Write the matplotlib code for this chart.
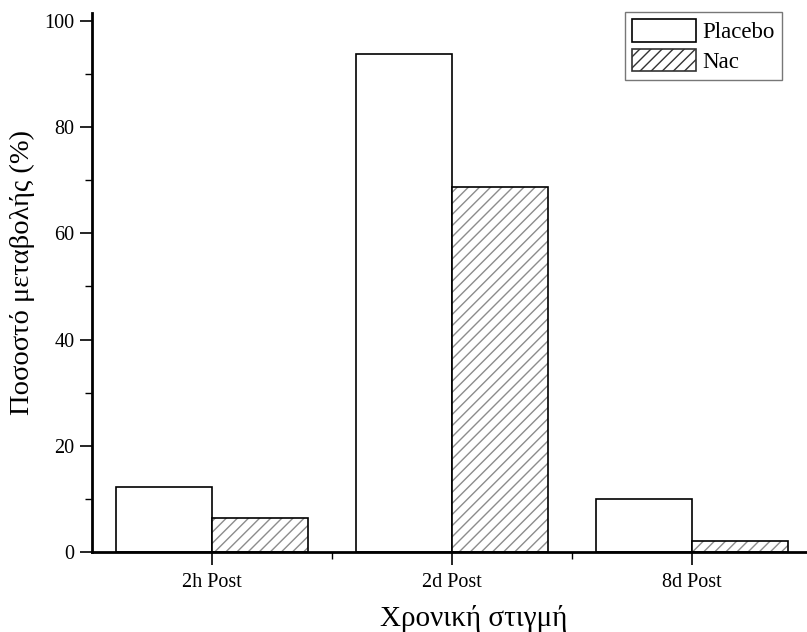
import matplotlib
matplotlib.use("Agg")
import matplotlib.pyplot as plt
import numpy as np
from matplotlib.ticker import MultipleLocator, FixedLocator
from matplotlib.patches import Patch

categories = ["2h Post", "2d Post", "8d Post"]
placebo = [12.3, 93.8, 10.0]
nac = [6.4, 68.7, 2.1]

plt.rcParams['font.family'] = ['Liberation Serif', 'DejaVu Serif']
plt.rcParams['hatch.linewidth'] = 1.0

fig = plt.figure(figsize=(8.07, 6.32), dpi=100)
ax = fig.add_axes([92/807, 1-552/632, (807-92)/807, (552-13)/632])

x = np.arange(len(categories))
w = 0.4
ax.bar(x - w/2, placebo, w, facecolor='white', edgecolor='black', linewidth=1.2)
# hatch layer (grey) then black outline
ax.bar(x + w/2, nac, w, facecolor='white', edgecolor='#8c8c8c', linewidth=0, hatch='///')
ax.bar(x + w/2, nac, w, facecolor='none', edgecolor='black', linewidth=1.2)

ax.set_xlim(-0.5, 2.48)
ax.set_ylim(0, 101.5)
ax.set_xticks(x)
ax.set_xticklabels(categories, fontsize=14.5)
ax.xaxis.set_minor_locator(FixedLocator([0.5, 1.5]))
ax.yaxis.set_major_locator(MultipleLocator(20))
ax.yaxis.set_minor_locator(MultipleLocator(10))
ax.tick_params(axis='y', which='major', labelsize=14.5, length=9, width=1.2, direction='out')
ax.tick_params(axis='y', which='minor', length=5, width=1.0, direction='out')
ax.tick_params(axis='x', which='major', length=9, width=1.2, direction='out', pad=6)
ax.tick_params(axis='x', which='minor', length=5, width=1.0, direction='out')

for s in ['top', 'right']:
    ax.spines[s].set_visible(False)
for s in ['left', 'bottom']:
    ax.spines[s].set_linewidth(2.0)

ax.set_xlabel("Χρονική στιγμή", fontsize=21)
ax.set_ylabel("Ποσοστό μεταβολής (%)", fontsize=20.5)
ax.xaxis.set_label_coords(0.534, -0.098)
ax.yaxis.set_label_coords(-0.080, 0.519)

handles = [Patch(facecolor='white', edgecolor='black', linewidth=1.2, label='Placebo'),
           Patch(facecolor='white', edgecolor='#8c8c8c', hatch='///', linewidth=1.2, label='Nac')]
leg = ax.legend(handles=handles, loc='upper right', bbox_to_anchor=(782/807, 1-12/632),
                bbox_transform=fig.transFigure,
                fontsize=16.5, frameon=True, fancybox=False, edgecolor='#555555',
                handlelength=2.8, handleheight=1.15, handletextpad=0.3, borderpad=0.3,
                labelspacing=0.25, borderaxespad=0)
leg.get_frame().set_linewidth(1.0)
for p in leg.get_patches():
    p.set_edgecolor('black')
leg.get_patches()[1].set_edgecolor('#333333')

fig.savefig("out.png", dpi=100, facecolor='white')
